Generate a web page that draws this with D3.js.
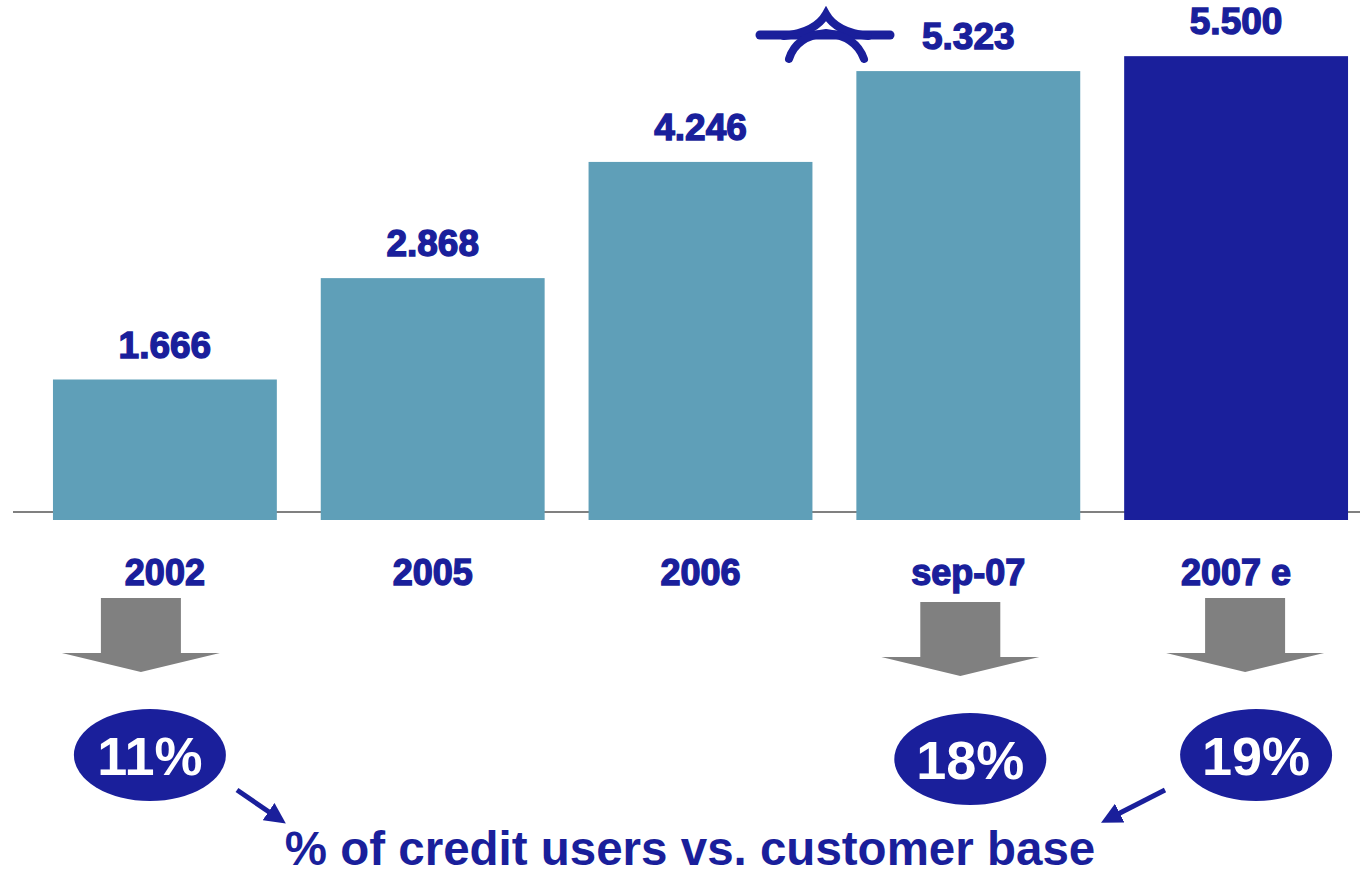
<!DOCTYPE html>
<html>
<head>
<meta charset="utf-8">
<script src="https://cdn.jsdelivr.net/npm/d3@7"></script>
<style>
  html, body { margin: 0; padding: 0; background: #fff; }
  svg { display: block; }
  text { font-family: "Liberation Sans", Arial, sans-serif; font-weight: bold; }
</style>
</head>
<body>
<svg id="chart" width="1360" height="876"></svg>
<script>
// Credit users (thousands) by period
const categories = ["2002", "2005", "2006", "sep-07", "2007 e"];
const values = [1.666, 2.868, 4.246, 5.323, 5.500];
const valueLabels = ["1.666", "2.868", "4.246", "5.323", "5.500"];
const estimated = [false, false, false, false, true];

// Share of credit users vs. customer base, for selected periods
const shareCategories = ["2002", "sep-07", "2007 e"];
const shareLabels = ["11%", "18%", "19%"];
const footnote = "% of credit users vs. customer base";

const BLUE = "#1a1f9b";
const TEAL = "#5f9fb8";
const GREY = "#808080";

const svg = d3.select("#chart");

const x = d3.scaleBand()
  .domain(categories)
  .range([31, 1370])
  .paddingInner(0.164)
  .paddingOuter(0.082);

const y = d3.scaleLinear().domain([0, 6]).range([520, 14]);

// baseline
svg.append("line")
  .attr("x1", 13).attr("x2", 1360)
  .attr("y1", 512).attr("y2", 512)
  .attr("stroke", GREY).attr("stroke-width", 2);

// bars
svg.selectAll("rect.bar")
  .data(categories)
  .join("rect")
  .attr("class", "bar")
  .attr("x", d => x(d))
  .attr("width", x.bandwidth())
  .attr("y", (d, i) => y(values[i]))
  .attr("height", (d, i) => y(0) - y(values[i]))
  .attr("fill", (d, i) => estimated[i] ? BLUE : TEAL);

// value labels
svg.selectAll("text.val")
  .data(categories)
  .join("text")
  .attr("class", "val")
  .attr("x", d => x(d) + x.bandwidth() / 2)
  .attr("y", (d, i) => y(values[i]) - 22)
  .attr("text-anchor", "middle")
  .attr("font-size", 37)
  .attr("fill", BLUE)
  .attr("stroke", BLUE)
  .attr("stroke-width", 1.4)
  .text((d, i) => valueLabels[i]);

// category labels
svg.selectAll("text.cat")
  .data(categories)
  .join("text")
  .attr("class", "cat")
  .attr("x", d => x(d) + x.bandwidth() / 2)
  .attr("y", 585)
  .attr("text-anchor", "middle")
  .attr("font-size", 36)
  .attr("fill", BLUE)
  .attr("stroke", BLUE)
  .attr("stroke-width", 1.4)
  .text(d => d);

// axis break marker near the sep-07 label
const brk = svg.append("g")
  .attr("fill", "none")
  .attr("stroke", BLUE)
  .attr("stroke-linecap", "round");
brk.append("path")
  .attr("d", "M760,35 H890")
  .attr("stroke-width", 9);
brk.append("path")
  .attr("d", "M784,36 Q816,32 826,14 Q836,32 868,36")
  .attr("stroke-width", 8);
brk.append("path")
  .attr("d", "M789,59 Q796,36 826,33 Q856,36 864,59")
  .attr("stroke-width", 8);

// grey block arrows and share ellipses
const arrowOffset = { "2002": -24, "sep-07": -8, "2007 e": 9 };
const arrowTop = { "2002": 598, "sep-07": 602, "2007 e": 598 };
const ellipseOffset = { "2002": -15, "sep-07": 2, "2007 e": 20 };
const ellipseCy = { "2002": 755, "sep-07": 759, "2007 e": 755 };

shareCategories.forEach((c, i) => {
  const cx = x(c) + x.bandwidth() / 2 + arrowOffset[c];
  const t = arrowTop[c];
  const p = d3.path();
  p.moveTo(cx - 40, t);
  p.lineTo(cx + 40, t);
  p.lineTo(cx + 40, t + 55);
  p.lineTo(cx + 79, t + 55);
  p.lineTo(cx, t + 74);
  p.lineTo(cx - 79, t + 55);
  p.lineTo(cx - 40, t + 55);
  p.closePath();
  svg.append("path").attr("d", p.toString()).attr("fill", GREY);

  const ex = x(c) + x.bandwidth() / 2 + ellipseOffset[c];
  const ey = ellipseCy[c];
  svg.append("ellipse")
    .attr("cx", ex).attr("cy", ey)
    .attr("rx", 76).attr("ry", 46)
    .attr("fill", BLUE);
  svg.append("text")
    .attr("x", ex).attr("y", ey + 20)
    .attr("text-anchor", "middle")
    .attr("font-size", 54)
    .attr("fill", "#fff")
    .text(shareLabels[i]);
});

// small pointer arrows to the footnote
const defs = svg.append("defs");
defs.append("marker")
  .attr("id", "head")
  .attr("viewBox", "0 0 10 10")
  .attr("refX", 2).attr("refY", 5)
  .attr("markerWidth", 4.2).attr("markerHeight", 4.2)
  .attr("orient", "auto")
  .append("path")
  .attr("d", "M0,0 L10,5 L0,10 Z")
  .attr("fill", BLUE);

svg.append("line")
  .attr("x1", 237).attr("y1", 790).attr("x2", 272).attr("y2", 814)
  .attr("stroke", BLUE).attr("stroke-width", 5)
  .attr("marker-end", "url(#head)");
svg.append("line")
  .attr("x1", 1165).attr("y1", 790).attr("x2", 1116).attr("y2", 815)
  .attr("stroke", BLUE).attr("stroke-width", 5)
  .attr("marker-end", "url(#head)");

svg.append("text")
  .attr("x", 690).attr("y", 865)
  .attr("text-anchor", "middle")
  .attr("font-size", 47.5)
  .attr("fill", BLUE)
  .text(footnote);
</script>
</body>
</html>
